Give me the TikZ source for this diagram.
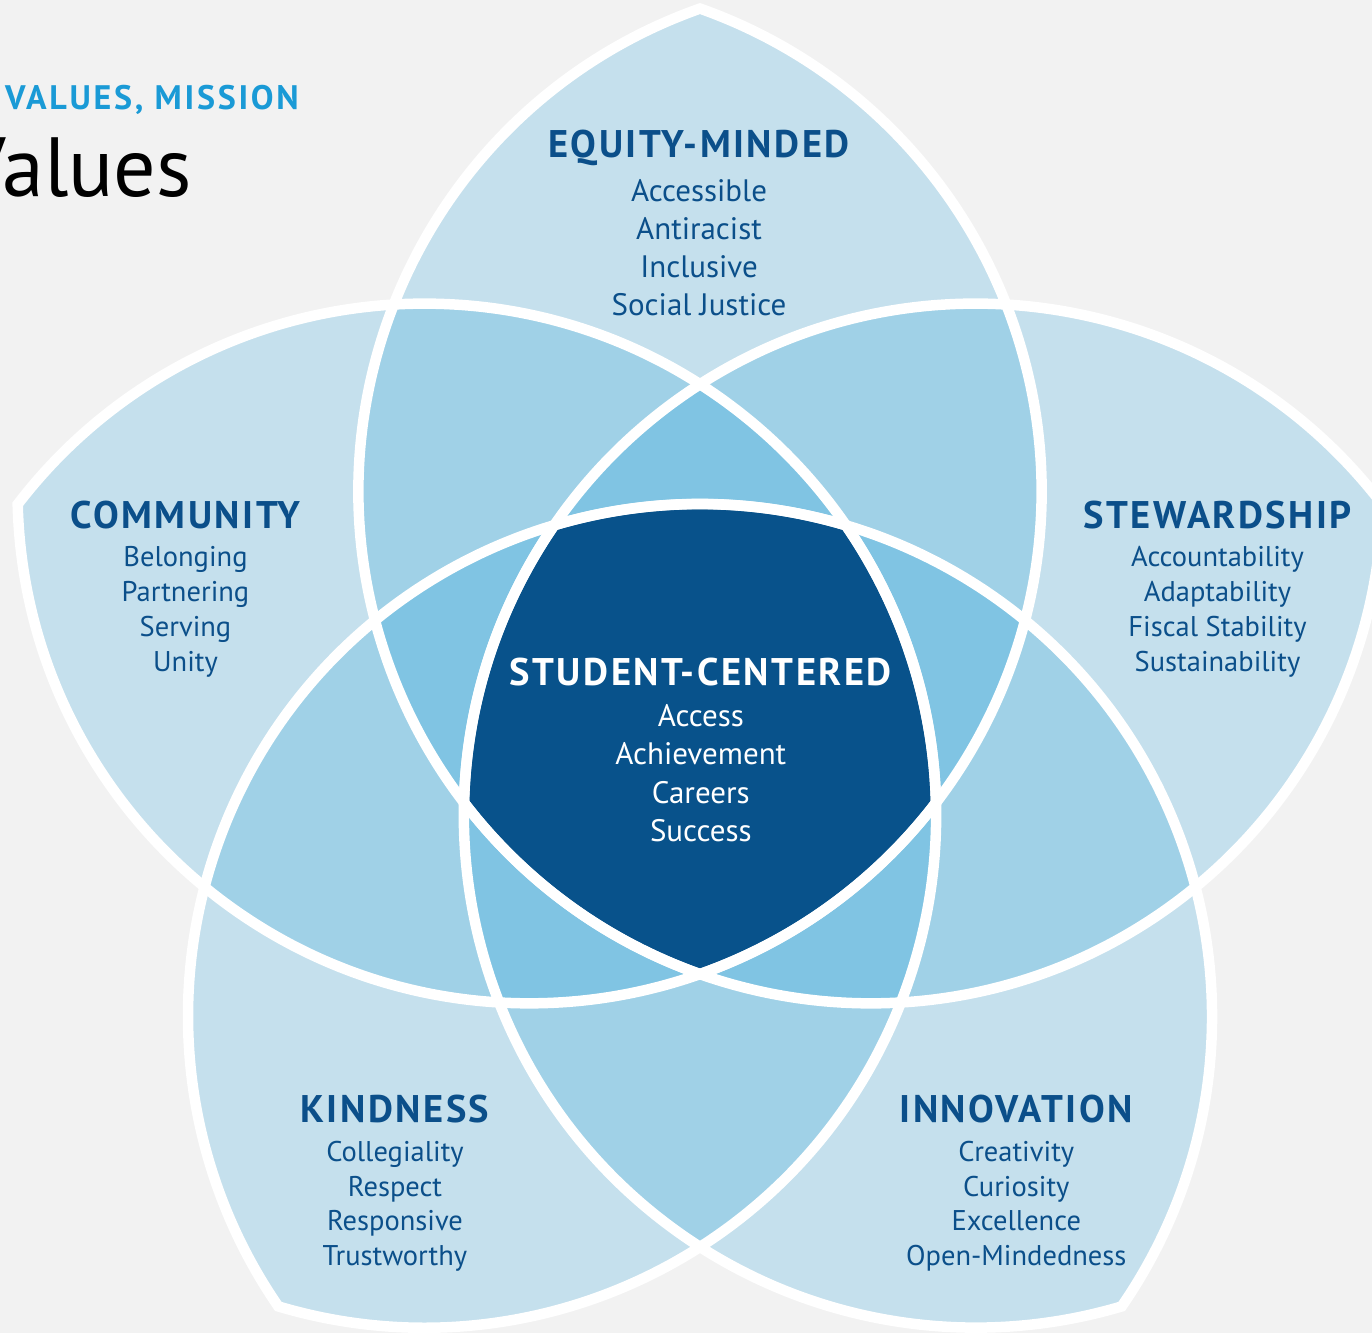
\documentclass[tikz,border=0pt]{standalone}
\usepackage{fontspec}
\setmainfont{PT Sans}
\newfontfamily\headfont{PT Sans}[LetterSpace=6.5]
\newfontfamily\supfont{PT Sans}[LetterSpace=8]
\definecolor{bg}{HTML}{F2F2F2}
\definecolor{lone}{HTML}{C5E0ED}
\definecolor{ltwo}{HTML}{A0D1E7}
\definecolor{lthree}{HTML}{80C4E3}
\definecolor{lcore}{HTML}{08528B}
\definecolor{txt}{HTML}{0B4F8A}
\definecolor{ttl}{HTML}{1A9AD6}
\tikzset{
  lensshape/.style={insert path={(0,717.42) arc[start angle=109.45,end angle=250.55,radius=512] arc[start angle=-70.55,end angle=70.55,radius=512] -- cycle}},
  rim/.style={draw=white,line width=10.5pt,line join=miter},
  head/.style={font=\headfont\bfseries\fontsize{38.5}{46}\selectfont,text=txt,inner sep=0pt},
  headw/.style={head,text=white},
  item/.style={font=\fontsize{31}{37}\selectfont,text=txt,inner sep=0pt},
  itemw/.style={item,text=white},
  itemsm/.style={font=\fontsize{28.5}{34}\selectfont,text=txt,inner sep=0pt},
}
\newcommand\valgroup[9]{%
  \node[#7,anchor=base] (#1) at (#2,{1333-#3}) {#4};
  \foreach \t [count=\i] in {#9}{\node[#8,anchor=base] (#1\i) at (#2,{1333-#5-(\i-1)*#6}) {\t};}
}
\begin{document}
\begin{tikzpicture}[x=1pt,y=1pt]
\useasboundingbox (0,0) rectangle (1372,1333);
\clip (0,0) rectangle (1372,1333);
\fill[bg] (0,0) rectangle (1372,1333);
\coordinate (C) at (700,607);
\foreach \k in {0,...,4}{\path (C) ++({54-72*\k}:290) coordinate (c\k);}
% single petals
\foreach \a/\b in {0/1,1/2,2/3,3/4,4/0}{
  \begin{scope}\clip (c\a) circle[radius=512]; \fill[lone] (c\b) circle[radius=512];\end{scope}}
% two overlaps
\foreach \a/\b/\c in {0/1/2,1/2/3,2/3/4,3/4/0,4/0/1}{
  \begin{scope}\clip (c\a) circle[radius=512]; \clip (c\b) circle[radius=512]; \fill[ltwo] (c\c) circle[radius=512];\end{scope}}
% three overlaps
\foreach \a/\b/\c/\d in {0/1/2/3,1/2/3/4,2/3/4/0,3/4/0/1,4/0/1/2}{
  \begin{scope}\clip (c\a) circle[radius=512]; \clip (c\b) circle[radius=512]; \clip (c\c) circle[radius=512]; \fill[lthree] (c\d) circle[radius=512];\end{scope}}
% core
\begin{scope}\clip (c0) circle[radius=512]; \clip (c1) circle[radius=512]; \clip (c2) circle[radius=512]; \clip (c3) circle[radius=512]; \fill[lcore] (c4) circle[radius=512];\end{scope}
% white outlines of the five petals
\foreach \k in {0,...,4}{\draw[rim,shift={(C)},rotate={-72*\k},lensshape];}
% titles
\node[anchor=base west,inner sep=0pt,text=ttl,font=\supfont\bfseries\fontsize{34}{40}\selectfont] (sup) at (5,{1333-109.3}) {VALUES, MISSION};
\node[anchor=base east,inner sep=0pt,text=black,font=\fontsize{84}{100}\selectfont] (ttlv) at (192,{1333-196.7}) {Values};
% groups
\valgroup{equity}{699}{157.7}{EQUITY-MINDED}{201.7}{38}{head}{item}{Accessible,Antiracist,Inclusive,Social Justice}
\valgroup{community}{185.5}{528.3}{COMMUNITY}{566.7}{35}{head}{itemsm}{Belonging,Partnering,Serving,Unity}
\valgroup{steward}{1217.5}{528.3}{STEWARDSHIP}{566.7}{35}{head}{itemsm}{Accountability,Adaptability,Fiscal Stability,Sustainability}
\valgroup{student}{700.8}{685.7}{STUDENT-CENTERED}{726.7}{38.3}{headw}{itemw}{Access,Achievement,Careers,Success}
\valgroup{kindness}{395}{1122.3}{KINDNESS}{1161.7}{34.5}{head}{itemsm}{Collegiality,Respect,Responsive,Trustworthy}
\valgroup{innovation}{1016.3}{1122.3}{INNOVATION}{1161.7}{34.5}{head}{itemsm}{Creativity,Curiosity,Excellence,Open-Mindedness}
\end{tikzpicture}
\end{document}
